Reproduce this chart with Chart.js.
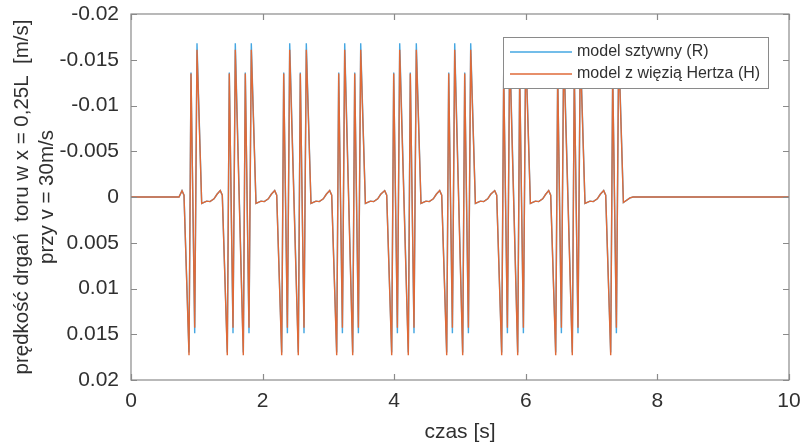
<!DOCTYPE html>
<html>
<head>
<meta charset="utf-8">
<script src="https://cdn.jsdelivr.net/npm/chart.js@4/dist/chart.umd.min.js"></script>
<style>
  html, body { margin: 0; padding: 0; background: #fff; }
  #wrap { width: 803px; height: 445px; }
</style>
</head>
<body>
<div id="wrap"><canvas id="velChart" width="803" height="445"></canvas></div>
<script>
// czas [s] - wspolny dla obu modeli
const time = [
    0, 0.7295, 0.7751, 0.8055,
    0.8815, 0.9119, 0.9681, 1.0030,
    1.0744, 1.1504, 1.2006, 1.2614, 1.3070, 1.3571, 1.3875,
    1.4635, 1.4939, 1.5502, 1.5851,
    1.7067, 1.7371, 1.7933, 1.8283,
    1.8997, 1.9757, 2.0259, 2.0867, 2.1323, 2.1839, 2.2143,
    2.2903, 2.3207, 2.3769, 2.4119,
    2.5426, 2.5730, 2.6292, 2.6641,
    2.7355, 2.8115, 2.8617, 2.9225, 2.9681, 3.0197, 3.0501,
    3.1261, 3.1565, 3.2128, 3.2477,
    3.3693, 3.3997, 3.4559, 3.4909,
    3.5623, 3.6383, 3.6885, 3.7493, 3.7949, 3.8556, 3.8860,
    3.9620, 3.9924, 4.0486, 4.0836,
    4.2143, 4.2447, 4.3009, 4.3359,
    4.4073, 4.4833, 4.5335, 4.5943, 4.6399, 4.6915, 4.7219,
    4.7979, 4.8283, 4.8845, 4.9195,
    5.0410, 5.0714, 5.1277, 5.1626,
    5.2340, 5.3100, 5.3602, 5.4210, 5.4666, 5.5273, 5.5577,
    5.6337, 5.6641, 5.7204, 5.7553,
    5.8769, 5.9073, 5.9635, 5.9985,
    6.0699, 6.1459, 6.1961, 6.2569, 6.3025, 6.3480, 6.3784,
    6.4544, 6.4848, 6.5410, 6.5760,
    6.7067, 6.7371, 6.7933, 6.8283,
    6.8997, 6.9757, 7.0259, 7.0867, 7.1323, 7.1839, 7.2143,
    7.2903, 7.3207, 7.3769, 7.4119,
    7.4833, 7.5836, 7.6300, 10
];

// model z wiezia Hertza (H)
const velH = [
    0, 0, -0.0007, -0.0002,
    0.0173, -0.0135, 0.0143, -0.0161,
    0.0007, 0.00045, 0.0005, 0.0002, -0.0003, -0.0007, -0.0002,
    0.0173, -0.0135, 0.0143, -0.0161,
    0.0173, -0.0135, 0.0143, -0.0161,
    0.0007, 0.00045, 0.0005, 0.0002, -0.0003, -0.0007, -0.0002,
    0.0173, -0.0135, 0.0143, -0.0161,
    0.0173, -0.0135, 0.0143, -0.0161,
    0.0007, 0.00045, 0.0005, 0.0002, -0.0003, -0.0007, -0.0002,
    0.0173, -0.0135, 0.0143, -0.0161,
    0.0173, -0.0135, 0.0143, -0.0161,
    0.0007, 0.00045, 0.0005, 0.0002, -0.0003, -0.0007, -0.0002,
    0.0173, -0.0135, 0.0143, -0.0161,
    0.0173, -0.0135, 0.0143, -0.0161,
    0.0007, 0.00045, 0.0005, 0.0002, -0.0003, -0.0007, -0.0002,
    0.0173, -0.0135, 0.0143, -0.0161,
    0.0173, -0.0135, 0.0143, -0.0161,
    0.0007, 0.00045, 0.0005, 0.0002, -0.0003, -0.0007, -0.0002,
    0.0173, -0.0135, 0.0143, -0.0161,
    0.0173, -0.0135, 0.0143, -0.0161,
    0.0007, 0.00045, 0.0005, 0.0002, -0.0003, -0.0007, -0.0002,
    0.0173, -0.0135, 0.0143, -0.0161,
    0.0173, -0.0135, 0.0143, -0.0161,
    0.0007, 0.00045, 0.0005, 0.0002, -0.0003, -0.0007, -0.0002,
    0.0173, -0.0135, 0.0143, -0.0161,
    0.0006, 0.0001, 0, 0
];

// model sztywny (R)
const velR = [
    0, 0, -0.0007, -0.0002,
    0.0170, -0.0136, 0.0149, -0.0168,
    0.0007, 0.00045, 0.0005, 0.0002, -0.0003, -0.0007, -0.0002,
    0.0170, -0.0136, 0.0149, -0.0168,
    0.0170, -0.0136, 0.0149, -0.0168,
    0.0007, 0.00045, 0.0005, 0.0002, -0.0003, -0.0007, -0.0002,
    0.0170, -0.0136, 0.0149, -0.0168,
    0.0170, -0.0136, 0.0149, -0.0168,
    0.0007, 0.00045, 0.0005, 0.0002, -0.0003, -0.0007, -0.0002,
    0.0170, -0.0136, 0.0149, -0.0168,
    0.0170, -0.0136, 0.0149, -0.0168,
    0.0007, 0.00045, 0.0005, 0.0002, -0.0003, -0.0007, -0.0002,
    0.0170, -0.0136, 0.0149, -0.0168,
    0.0170, -0.0136, 0.0149, -0.0168,
    0.0007, 0.00045, 0.0005, 0.0002, -0.0003, -0.0007, -0.0002,
    0.0170, -0.0136, 0.0149, -0.0168,
    0.0170, -0.0136, 0.0149, -0.0168,
    0.0007, 0.00045, 0.0005, 0.0002, -0.0003, -0.0007, -0.0002,
    0.0170, -0.0136, 0.0149, -0.0168,
    0.0170, -0.0136, 0.0149, -0.0168,
    0.0007, 0.00045, 0.0005, 0.0002, -0.0003, -0.0007, -0.0002,
    0.0170, -0.0136, 0.0149, -0.0168,
    0.0170, -0.0136, 0.0149, -0.0168,
    0.0007, 0.00045, 0.0005, 0.0002, -0.0003, -0.0007, -0.0002,
    0.0170, -0.0136, 0.0149, -0.0168,
    0.0006, 0.0001, 0, 0
];

const xTicks = [0, 2, 4, 6, 8, 10];
const yTicks = [-0.02, -0.015, -0.01, -0.005, 0, 0.005, 0.01, 0.015, 0.02];

const seriesLabels = ['model sztywny (R)', 'model z więzią Hertza (H)'];
const textColor = '#303030';
const frameColor = '#8a8a8a';
const fontFamily = '"Liberation Sans", Arial, sans-serif';

const toPoints = (vals) => time.map((t, i) => ({ x: t, y: vals[i] }));

// ramka z kreskami do srodka + legenda w ramce (styl MATLAB)
const framePlugin = {
    id: 'frame',
    afterDatasetsDraw(chart) {
        const { ctx, chartArea: a, scales } = chart;
        const tl = 6;
        ctx.save();
        ctx.strokeStyle = frameColor;
        ctx.lineWidth = 1.2;
        ctx.strokeRect(a.left, a.top, a.right - a.left, a.bottom - a.top);
        ctx.beginPath();
        scales.x.ticks.forEach(t => {
            const px = Math.round(scales.x.getPixelForValue(t.value)) + 0.5;
            ctx.moveTo(px, a.bottom); ctx.lineTo(px, a.bottom - tl);
            ctx.moveTo(px, a.top); ctx.lineTo(px, a.top + tl);
        });
        scales.y.ticks.forEach(t => {
            const py = Math.round(scales.y.getPixelForValue(t.value)) + 0.5;
            ctx.moveTo(a.left, py); ctx.lineTo(a.left + tl, py);
            ctx.moveTo(a.right, py); ctx.lineTo(a.right - tl, py);
        });
        ctx.stroke();

        // legenda
        const bx = a.right - 286, by = a.top + 23, bw = 265, bh = 51;
        ctx.fillStyle = '#fff';
        ctx.fillRect(bx, by, bw, bh);
        ctx.strokeStyle = frameColor;
        ctx.lineWidth = 1;
        ctx.strokeRect(bx + 0.5, by + 0.5, bw, bh);
        ctx.font = '16px ' + fontFamily;
        ctx.textBaseline = 'middle';
        const items = [chart.data.datasets[0], chart.data.datasets[1]];
        items.forEach((ds, i) => {
            const ly = by + 15 + i * 22;
            ctx.strokeStyle = ds.borderColor;
            ctx.lineWidth = 1.5;
            ctx.beginPath();
            ctx.moveTo(bx + 7, ly); ctx.lineTo(bx + 69, ly);
            ctx.stroke();
            ctx.fillStyle = textColor;
            ctx.fillText(ds.label, bx + 74, ly);
        });
        ctx.restore();
    }
};

new Chart(document.getElementById('velChart'), {
    type: 'line',
    data: {
        datasets: [
            {
                label: seriesLabels[0],
                data: toPoints(velR),
                borderColor: '#45a7e2',
                borderWidth: 1.4,
                pointRadius: 0,
                tension: 0,
                order: 1
            },
            {
                label: seriesLabels[1],
                data: toPoints(velH),
                borderColor: '#df6a38',
                borderWidth: 1.4,
                pointRadius: 0,
                tension: 0,
                order: 0
            }
        ]
    },
    options: {
        responsive: false,
        animation: false,
        layout: { padding: { left: 0, top: 14, right: 14, bottom: 0 } },
        plugins: {
            legend: { display: false },
            tooltip: { enabled: false }
        },
        scales: {
            x: {
                type: 'linear',
                min: 0,
                max: 10,
                afterBuildTicks: (scale) => { scale.ticks = xTicks.map(v => ({ value: v })); },
                afterFit: (scale) => {
                    scale.height = 65;
                    scale.paddingLeft = 0;
                    scale.paddingRight = 0;
                },
                grid: { display: false, drawTicks: false },
                border: { display: false },
                ticks: {
                    color: textColor,
                    font: { family: fontFamily, size: 21 },
                    padding: 9,
                    maxRotation: 0,
                    callback: (v) => String(v)
                },
                title: {
                    display: true,
                    text: 'czas [s]',
                    color: textColor,
                    font: { family: fontFamily, size: 21 },
                    padding: { top: 0, bottom: 0 }
                }
            },
            y: {
                type: 'linear',
                reverse: true,
                min: -0.02,
                max: 0.02,
                afterBuildTicks: (scale) => { scale.ticks = yTicks.map(v => ({ value: v })); },
                afterFit: (scale) => {
                    scale.width = 131;
                    scale.paddingTop = 0;
                    scale.paddingBottom = 0;
                },
                grid: { display: false, drawTicks: false },
                border: { display: false },
                ticks: {
                    color: textColor,
                    font: { family: fontFamily, size: 21 },
                    padding: 12,
                    callback: (v) => String(+Number(v).toFixed(3))
                },
                title: {
                    display: true,
                    text: ['prędkość drgań  toru w x = 0,25L  [m/s]', 'przy v = 30m/s'],
                    color: textColor,
                    font: { family: fontFamily, size: 20.5 },
                    padding: { top: 10, bottom: 0 }
                }
            }
        }
    },
    plugins: [framePlugin]
});
</script>
</body>
</html>
